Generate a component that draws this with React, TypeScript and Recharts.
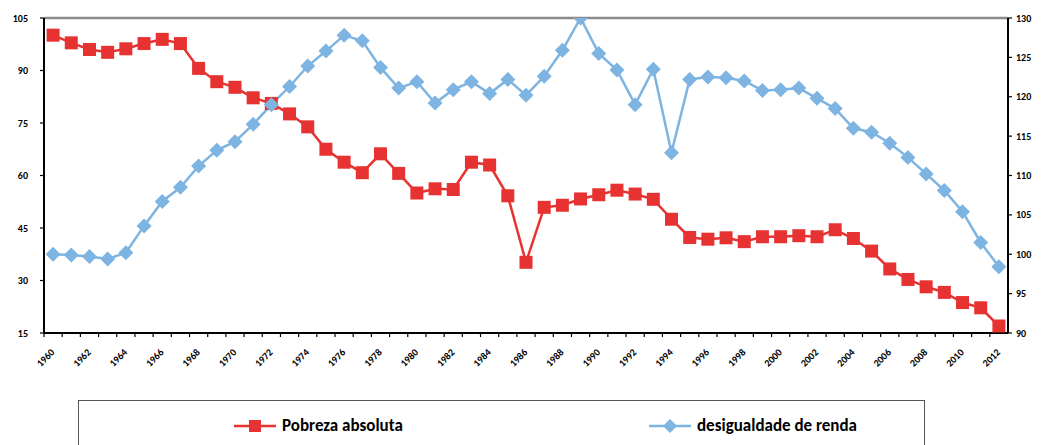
import React from 'react';
import {
  ComposedChart,
  Line,
  XAxis,
  YAxis,
  ReferenceLine
} from 'recharts';

const years = [
  1960, 1961, 1962, 1963, 1964, 1965, 1966, 1967, 1968, 1969,
  1970, 1971, 1972, 1973, 1974, 1975, 1976, 1977, 1978, 1979,
  1980, 1981, 1982, 1983, 1984, 1985, 1986, 1987, 1988, 1989,
  1990, 1991, 1992, 1993, 1994, 1995, 1996, 1997, 1998, 1999,
  2000, 2001, 2002, 2003, 2004, 2005, 2006, 2007, 2008, 2009,
  2010, 2011, 2012
];

// Pobreza absoluta (left axis)
const pobreza = [
  100.1, 97.9, 96.0, 95.2, 96.2, 97.7, 98.9, 97.7, 90.6, 86.8,
  85.2, 82.2, 80.6, 77.6, 73.9, 67.5, 63.8, 60.8, 66.2, 60.6,
  55.0, 56.2, 56.0, 63.8, 63.0, 54.2, 35.2, 50.9, 51.5, 53.3,
  54.5, 55.8, 54.7, 53.2, 47.5, 42.3, 41.8, 42.2, 41.1, 42.5,
  42.5, 42.8, 42.5, 44.5, 42.0, 38.4, 33.3, 30.3, 28.2, 26.6,
  23.7, 22.2, 17.0
];

// desigualdade de renda (right axis)
const desigualdade = [
  100.0, 99.9, 99.7, 99.4, 100.2, 103.6, 106.7, 108.5, 111.2, 113.2,
  114.3, 116.5, 119.0, 121.3, 123.9, 125.8, 127.8, 127.1, 123.7, 121.1,
  121.9, 119.2, 120.9, 121.9, 120.4, 122.2, 120.2, 122.6, 125.9, 130.0,
  125.5, 123.4, 119.0, 123.5, 112.9, 122.2, 122.5, 122.4, 122.0, 120.8,
  120.9, 121.1, 119.8, 118.5, 116.0, 115.5, 114.1, 112.3, 110.2, 108.1,
  105.4, 101.5, 98.4
];

const leftTicks = [15, 30, 45, 60, 75, 90, 105];
const rightTicks = [90, 95, 100, 105, 110, 115, 120, 125, 130];

const data = years.map((y, i) => ({ year: y, pobreza: pobreza[i], desigualdade: desigualdade[i] }));

const RED = '#E63331';
const BLUE = '#7DB4E1';
const FONT = 'Carlito, Calibri, Lato, sans-serif';

const CHART_W = 1041;
const CHART_H = 445;
const PLOT_LEFT = 44;
const PLOT_RIGHT = 1008;
const BAND = (PLOT_RIGHT - PLOT_LEFT) / years.length;

const SquareDot = (props: any) => {
  const { cx, cy, index } = props;
  if (cx == null || cy == null) return null;
  return <rect key={`sq-${index}`} x={cx - 6.5} y={cy - 6.5} width={13} height={13} fill={RED} />;
};

const DiamondDot = (props: any) => {
  const { cx, cy, index } = props;
  if (cx == null || cy == null) return null;
  const r = 7.5;
  return (
    <path
      key={`dm-${index}`}
      d={`M${cx},${cy - r} L${cx + r},${cy} L${cx},${cy + r} L${cx - r},${cy} Z`}
      fill={BLUE}
    />
  );
};

const YearTick = (props: any) => {
  const { x, y, payload } = props;
  const year = Number(payload.value);
  const bx = x - BAND / 2;
  return (
    <g>
      <line x1={bx} y1={y - 1} x2={bx} y2={y + 4} stroke="#000" strokeWidth={1.2} />
      {year % 2 === 0 && (
        <text
          x={x + 2}
          y={y + 20}
          textAnchor="end"
          transform={`rotate(-45, ${x + 2}, ${y + 20})`}
          fontSize={10}
          fontWeight="bold"
          fontFamily={FONT}
          fill="#000"
        >
          {year}
        </text>
      )}
    </g>
  );
};

export default function App() {
  return (
    <div style={{ position: 'fixed', left: 0, top: 0, width: CHART_W, height: CHART_H, overflow: 'hidden', background: '#fff' }}>
      <ComposedChart
        width={CHART_W}
        height={CHART_H}
        data={data}
        margin={{ top: 18, right: 0, left: 0, bottom: 72 }}
      >
        <XAxis
          dataKey="year"
          interval={0}
          padding={{ left: BAND / 2, right: BAND / 2 }}
          tickLine={false}
          tickSize={0}
          tickMargin={0}
          height={40}
          stroke="#000"
          strokeWidth={2}
          axisLine
          tick={<YearTick />}
        />
        {/* hidden numeric axis, only used to place the frame lines at the band edges */}
        <XAxis xAxisId="edge" type="number" domain={[0, years.length]} hide />
        <YAxis
          yAxisId="left"
          orientation="left"
          domain={[15, 105]}
          ticks={leftTicks}
          width={PLOT_LEFT}
          allowDataOverflow
          stroke="#000"
          strokeWidth={2}
          axisLine
          tickLine={{ stroke: '#000', strokeWidth: 1.2 }}
          tickSize={4}
          tickMargin={12}
          tick={{ fontSize: 10, fontWeight: 'bold', fontFamily: FONT, fill: '#000' }}
        />
        <YAxis
          yAxisId="right"
          orientation="right"
          domain={[90, 130]}
          ticks={rightTicks}
          width={CHART_W - PLOT_RIGHT}
          allowDataOverflow
          stroke="#000"
          strokeWidth={2}
          axisLine
          tickLine={{ stroke: '#000', strokeWidth: 1.2 }}
          tickSize={4}
          tickMargin={4}
          tick={{ fontSize: 10, fontWeight: 'bold', fontFamily: FONT, fill: '#000', textAnchor: 'start' }}
        />
        <ReferenceLine yAxisId="left" y={105} stroke="#8a8a8a" strokeWidth={2.5} />
        <ReferenceLine yAxisId="left" y={15} stroke="#000" strokeWidth={2} />
        <ReferenceLine yAxisId="left" xAxisId="edge" x={0} stroke="#000" strokeWidth={2} />
        <ReferenceLine yAxisId="left" xAxisId="edge" x={years.length} stroke="#000" strokeWidth={2} />
        <Line
          yAxisId="left"
          dataKey="pobreza"
          type="linear"
          stroke={RED}
          strokeWidth={2.5}
          dot={<SquareDot />}
          activeDot={false}
          isAnimationActive={false}
        />
        <Line
          yAxisId="right"
          dataKey="desigualdade"
          type="linear"
          stroke={BLUE}
          strokeWidth={2.5}
          dot={<DiamondDot />}
          activeDot={false}
          isAnimationActive={false}
        />
      </ComposedChart>

      <div
        style={{
          position: 'absolute',
          left: 78,
          top: 400,
          width: 847,
          height: 60,
          border: '1px solid #555',
          boxSizing: 'border-box',
          fontFamily: FONT,
          fontWeight: 'bold',
          fontSize: 17,
          color: '#000'
        }}
      >
        <div style={{ position: 'absolute', left: 155, top: 14, display: 'flex', alignItems: 'center' }}>
          <svg width={42} height={16}>
            <line x1={0} y1={8} x2={42} y2={8} stroke={RED} strokeWidth={2.5} />
            <rect x={15} y={2} width={12} height={12} fill={RED} />
          </svg>
          <span style={{ marginLeft: 6 }}>Pobreza absoluta</span>
        </div>
        <div style={{ position: 'absolute', left: 570, top: 14, display: 'flex', alignItems: 'center' }}>
          <svg width={42} height={16}>
            <line x1={0} y1={8} x2={42} y2={8} stroke={BLUE} strokeWidth={2.5} />
            <path d="M21,1 L28,8 L21,15 L14,8 Z" fill={BLUE} />
          </svg>
          <span style={{ marginLeft: 6 }}>desigualdade de renda</span>
        </div>
      </div>
    </div>
  );
}
